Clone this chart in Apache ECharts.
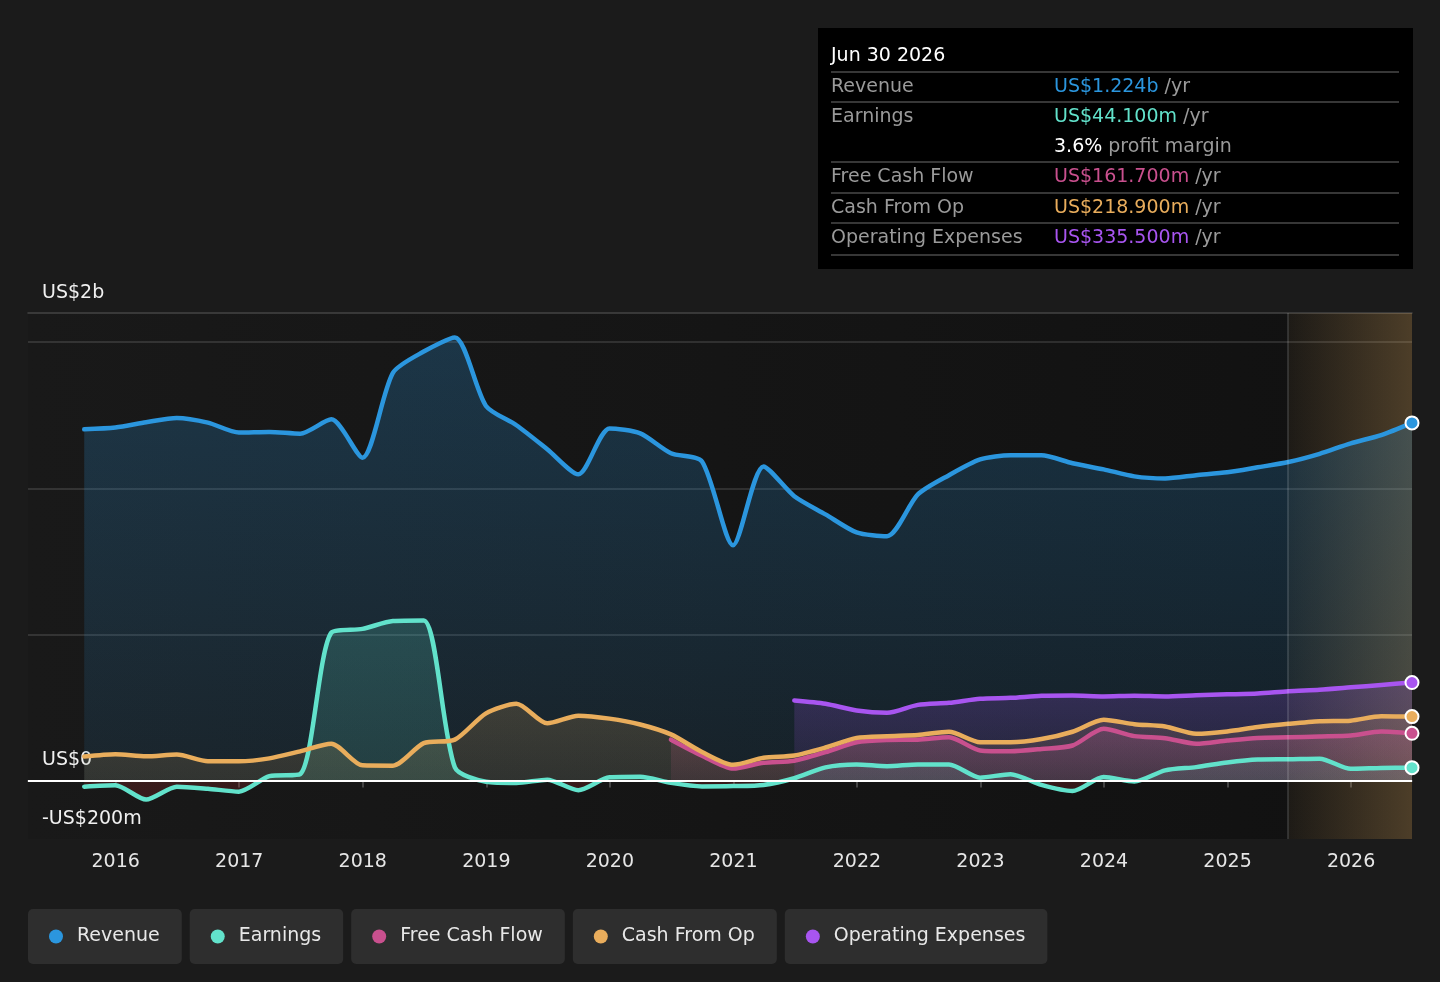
<!DOCTYPE html>
<html>
<head>
  <meta charset="utf-8">
  <title>Revenue &amp; Earnings History</title>
  <script src="https://cdn.jsdelivr.net/npm/echarts@6.0.0/dist/echarts.min.js"></script>
  <style>
    html, body { margin: 0; padding: 0; background: #1b1b1b; }
    #chart { width: 1440px; height: 982px; }
  </style>
</head>
<body>
<div id="chart"></div>
<script>
  // quarter-end dates (trailing twelve months), last ones are forecasts
  var quarters = [
    '2015-09-30', '2015-12-31',
    '2016-03-31', '2016-06-30', '2016-09-30', '2016-12-31',
    '2017-03-31', '2017-06-30', '2017-09-30', '2017-12-31',
    '2018-03-31', '2018-06-30', '2018-09-30', '2018-12-31',
    '2019-03-31', '2019-06-30', '2019-09-30', '2019-12-31',
    '2020-03-31', '2020-06-30', '2020-09-30', '2020-12-31',
    '2021-03-31', '2021-06-30', '2021-09-30', '2021-12-31',
    '2022-03-31', '2022-06-30', '2022-09-30', '2022-12-31',
    '2023-03-31', '2023-06-30', '2023-09-30', '2023-12-31',
    '2024-03-31', '2024-06-30', '2024-09-30', '2024-12-31',
    '2025-03-31', '2025-06-30', '2025-09-30', '2025-12-31',
    '2026-03-31', '2026-06-30'
  ];

  // US$ millions
  var revenue = [
    1202, 1208,
    1226, 1241, 1225, 1191,
    1193, 1187, 1236, 1105,
    1395, 1468, 1516, 1282,
    1216, 1134, 1048, 1205,
    1188, 1120, 1092, 805,
    1075, 973, 911, 849,
    836, 979, 1045, 1099,
    1113, 1113, 1086, 1065,
    1041, 1034, 1045, 1055,
    1072, 1090, 1118, 1154,
    1182, 1224
  ];
  var earnings = [
    -21, -16,
    -65, -21, -28, -38,
    15, 22, 506, 519,
    546, 548, 45, -4,
    -8, 3, -33, 11,
    13, -8, -20, -19,
    -15, 8, 45, 55,
    49, 55, 55, 10,
    22, -15, -36, 12,
    -3, 35, 46, 62,
    72, 73, 75, 40,
    43, 44.1
  ];
  var cashFromOp = [
    82, 90,
    83, 89, 66, 66,
    76, 100, 126, 52,
    51, 128, 140, 230,
    263, 196, 222, 212,
    192, 158, 98, 54,
    78, 86, 113, 146,
    152, 156, 167, 131,
    131, 142, 167, 208,
    193, 185, 160, 168,
    183, 194, 203, 205,
    220, 218.9
  ];
  var fcfStart = 19; // first reported at 2020-06-30
  var freeCashFlow = [
    140, 85, 41, 61, 68, 97, 131, 139, 140, 148,
    103, 100, 108, 120, 177, 152, 145, 126, 137, 146,
    148, 151, 154, 168, 161.7
  ];
  var opexStart = 23; // first reported at 2021-06-30
  var opex = [
    274, 263, 240, 232, 259, 266, 280, 283, 290, 291,
    288, 290, 288, 292, 295, 298, 306, 311, 319, 327,
    335.5
  ];

  var yearTicks = [2016, 2017, 2018, 2019, 2020, 2021, 2022, 2023, 2024, 2025, 2026];
  var yLabelValues = [-200, 0, 1600];
  var yLabelTexts = ['-US$200m', 'US$0', 'US$2b'];
  var forecastFrom = '2025-06-30';

  var seriesNames = ['Revenue', 'Earnings', 'Free Cash Flow', 'Cash From Op', 'Operating Expenses'];
  var seriesColors = ['#2b96de', '#62e2cb', '#c9508e', '#e9ad5c', '#a855f0'];

  var FONT = 'DejaVu Sans';
  var yMin = -200, yMax = 1600;
  var gridTop = 313, gridBottom = 143;

  function toYear(d) {
    var p = d.split('-');
    var y = +p[0];
    var t = Date.UTC(y, p[1] - 1, +p[2]);
    return y + (t - Date.UTC(y, 0, 1)) / (Date.UTC(y + 1, 0, 1) - Date.UTC(y, 0, 1));
  }
  var xMax = toYear(quarters[quarters.length - 1]);
  var xMin = 2015.29;

  function rgba(hex, a) {
    var n = parseInt(hex.slice(1), 16);
    return 'rgba(' + (n >> 16) + ',' + ((n >> 8) & 255) + ',' + (n & 255) + ',' + a + ')';
  }
  function vGrad(c, a0, a1) {
    return new echarts.graphic.LinearGradient(0, 0, 0, 1, [
      { offset: 0, color: rgba(c, a0) },
      { offset: 1, color: rgba(c, a1) }
    ]);
  }

  var chart = echarts.init(document.getElementById('chart'));
  var plotBottom = 982 - gridBottom;
  var zeroOff = yMax / (yMax - yMin);

  // earnings: teal above zero, dark red below
  var earnArea = new echarts.graphic.LinearGradient(0, gridTop, 0, plotBottom, [
    { offset: 0, color: rgba(seriesColors[1], 0.4) },
    { offset: zeroOff, color: rgba(seriesColors[1], 0.2) },
    { offset: zeroOff, color: 'rgba(190,45,45,0.28)' },
    { offset: 1, color: 'rgba(190,45,45,0.28)' }
  ], true);

  function mk(idx, values, start, area) {
    var data = values.map(function (v, i) { return [toYear(quarters[start + i]), v]; });
    var last = data.length - 1;
    return {
      name: seriesNames[idx],
      type: 'line',
      data: data,
      smooth: 0.25,
      symbol: 'circle',
      showSymbol: true,
      showAllSymbol: true,
      symbolSize: function (v, p) { return p.dataIndex === last ? 13 : 0; },
      itemStyle: { color: seriesColors[idx], borderColor: '#fff', borderWidth: 2 },
      lineStyle: { color: seriesColors[idx], width: 4.5, cap: 'round', join: 'round' },
      areaStyle: { color: area },
      emphasis: { disabled: true }
    };
  }

  var series = [
    mk(0, revenue, 0, vGrad(seriesColors[0], 0.35, 0.14)),
    mk(1, earnings, 0, earnArea),
    mk(2, freeCashFlow, fcfStart, vGrad(seriesColors[2], 0.3, 0.14)),
    mk(3, cashFromOp, 0, vGrad(seriesColors[3], 0.25, 0.16)),
    mk(4, opex, opexStart, vGrad(seriesColors[4], 0.3, 0.12)),
    {
      name: 'forecast',
      type: 'line',
      data: [],
      silent: true,
      markArea: {
        z: 3,
        silent: true,
        itemStyle: {
          color: new echarts.graphic.LinearGradient(0, 0, 1, 0, [
            { offset: 0, color: 'rgba(255,195,110,0.05)' },
            { offset: 1, color: 'rgba(255,195,110,0.25)' }
          ])
        },
        data: [[{ xAxis: toYear(forecastFrom) }, { xAxis: xMax }]]
      },
      markLine: {
        silent: true,
        symbol: ['none', 'none'],
        label: { show: false },
        data: [
          { yAxis: 0, lineStyle: { color: '#ffffff', width: 2, type: 'solid' } },
          { xAxis: toYear(forecastFrom), lineStyle: { color: 'rgba(255,255,255,0.18)', width: 1.5, type: 'solid' } }
        ]
      }
    }
  ];

  // only every 5th split line (0, 500, 1000, 1500) is drawn
  var gridColors = ['transparent', 'transparent', 'rgba(255,255,255,0.16)', 'transparent', 'transparent'];

  // legend dots as rich tokens
  var rich = { gap: { width: 14 } };
  seriesColors.forEach(function (c, i) {
    rich['d' + i] = { width: 14, height: 14, borderRadius: 7, backgroundColor: c };
  });

  // tooltip-like summary box for the last point
  var months = ['Jan', 'Feb', 'Mar', 'Apr', 'May', 'Jun', 'Jul', 'Aug', 'Sep', 'Oct', 'Nov', 'Dec'];
  var lastQ = quarters[quarters.length - 1].split('-');
  var tipTitle = months[lastQ[1] - 1] + ' ' + (+lastQ[2]) + ' ' + lastQ[0];
  function fmtM(v) { return 'US$' + v.toFixed(3) + 'm'; }
  var lastRev = revenue[revenue.length - 1];
  var lastEarn = earnings[earnings.length - 1];
  var tipRows = [
    { label: 'Revenue', value: 'US$' + (lastRev / 1000).toFixed(3) + 'b', color: seriesColors[0] },
    { label: 'Earnings', value: fmtM(lastEarn), color: seriesColors[1] },
    { label: '', value: (lastEarn / lastRev * 100).toFixed(1) + '%', color: '#ffffff', unit: ' profit margin' },
    { label: 'Free Cash Flow', value: fmtM(freeCashFlow[freeCashFlow.length - 1]), color: seriesColors[2] },
    { label: 'Cash From Op', value: fmtM(cashFromOp[cashFromOp.length - 1]), color: seriesColors[3] },
    { label: 'Operating Expenses', value: fmtM(opex[opex.length - 1]), color: seriesColors[4] }
  ];
  var rowY = [59, 89, 119, 149, 180, 210];
  var sepY = [44, 74, 134, 165, 195, 227];

  var tipChildren = [
    { type: 'rect', shape: { x: 0, y: 0, width: 595, height: 241 }, style: { fill: '#000000' } },
    { type: 'text', x: 13, y: 28, style: { text: tipTitle, fill: '#ffffff', font: '19px "' + FONT + '"', verticalAlign: 'middle' } }
  ];
  sepY.forEach(function (y) {
    tipChildren.push({ type: 'line', shape: { x1: 13, y1: y, x2: 581, y2: y }, style: { stroke: '#4a4a4a', lineWidth: 1.5 } });
  });
  tipRows.forEach(function (r, i) {
    if (r.label) {
      tipChildren.push({ type: 'text', x: 13, y: rowY[i], style: { text: r.label, fill: '#9a9a9a', font: '19px "' + FONT + '"', verticalAlign: 'middle' } });
    }
    tipChildren.push({
      type: 'text', x: 236, y: rowY[i],
      style: {
        text: '{v|' + r.value + '}{u|' + (r.unit || ' /yr') + '}',
        font: '19px "' + FONT + '"',
        verticalAlign: 'middle',
        rich: {
          v: { fill: r.color, font: '19px "' + FONT + '"' },
          u: { fill: '#9a9a9a', font: '19px "' + FONT + '"' }
        }
      }
    });
  });

  var option = {
    animation: false,
    backgroundColor: '#1b1b1b',
    textStyle: { fontFamily: FONT },
    grid: {
      left: 28, right: 28, top: gridTop, bottom: gridBottom,
      show: true, borderWidth: 0,
      outerBoundsMode: 'none',
      backgroundColor: new echarts.graphic.LinearGradient(0, 0, 1, 0, [
        { offset: 0, color: '#191919' },
        { offset: 1, color: '#111111' }
      ])
    },
    xAxis: [{
      type: 'value', min: xMin, max: xMax,
      axisLine: { show: true, lineStyle: { color: '#4a4a4a', width: 2 } },
      axisTick: { show: true, customValues: yearTicks, length: 7, lineStyle: { color: '#555', width: 1.5 } },
      axisLabel: {
        customValues: yearTicks, color: '#e6e6e6', fontSize: 19, margin: 14,
        formatter: function (v) { return String(Math.round(v)); }
      },
      splitLine: { show: false }
    }, {
      type: 'value', min: xMin, max: xMax, position: 'top',
      axisLine: { show: true, onZero: false, lineStyle: { color: '#444', width: 1.5 } },
      axisTick: { show: false }, axisLabel: { show: false }, splitLine: { show: false }
    }],
    yAxis: {
      type: 'value', min: yMin, max: yMax, interval: 100,
      axisLine: { show: false }, axisTick: { show: false },
      splitLine: { show: true, lineStyle: { color: gridColors, width: 1.5 } },
      axisLabel: {
        inside: true, customValues: yLabelValues, margin: 14,
        color: '#f0f0f0', fontSize: 19, verticalAlign: 'bottom', lineHeight: 22, padding: [0, 0, 9, 0],
        formatter: function (v) { return yLabelTexts[yLabelValues.indexOf(v)]; }
      }
    },
    legend: {
      data: seriesNames, left: 17, top: 904, itemGap: 2,
      itemWidth: 0, itemHeight: 0, icon: 'rect',
      formatter: function (name) { return '{d' + seriesNames.indexOf(name) + '| }{gap| }' + name; },
      textStyle: {
        color: '#e8e8e8', fontSize: 19, fontFamily: FONT, lineHeight: 19,
        backgroundColor: '#2e2e2e', borderRadius: 5, padding: [18, 22, 18, 21],
        rich: rich
      }
    },
    graphic: [{ type: 'group', left: 818, top: 28, children: tipChildren }],
    series: series
  };

  chart.setOption(option);
  window.onresize = function () { chart.resize(); };
</script>
</body>
</html>
